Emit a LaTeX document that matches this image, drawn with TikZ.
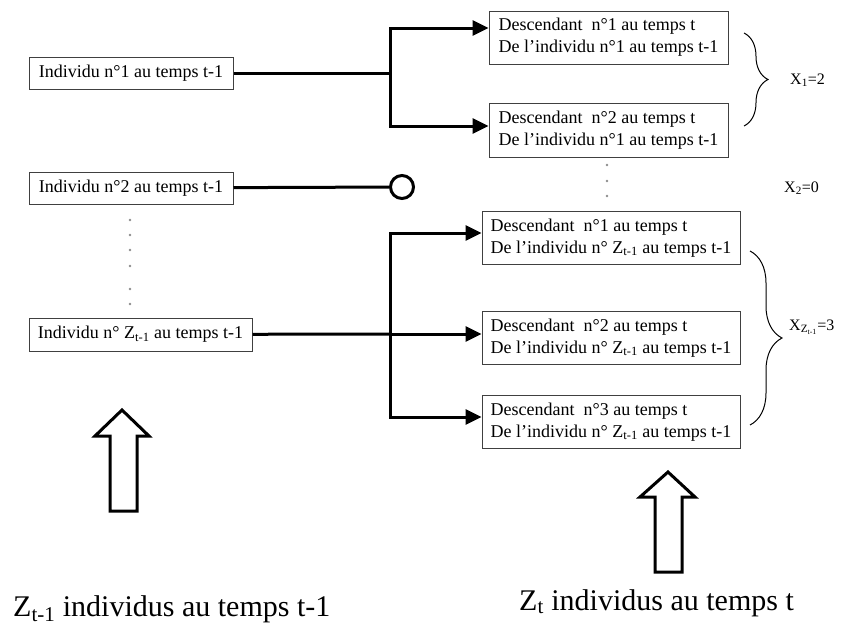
\documentclass[tikz,border=0pt]{standalone}
\usepackage{fontspec}
\setmainfont{Liberation Serif}
\usetikzlibrary{positioning}
\usetikzlibrary{calc}
\usetikzlibrary{arrows.meta}
\usetikzlibrary{decorations.pathreplacing}
\tikzset{>=latex}
\tikzstyle{indnode}=[black,draw=black!75,line width=1pt,shape=rectangle,fill=white,inner sep=0pt,font=\fontsize{18}{22}\selectfont]
\tikzstyle{descnode}=[indnode,align=left]
\tikzstyle{branch}=[line width=3pt,color=black]
\tikzstyle{barrow}=[branch,-{Triangle[length=16pt,width=15pt]}]
\tikzstyle{xbrace}=[decorate,decoration={brace,amplitude=24pt},line width=1pt]
\tikzstyle{xlabel}=[font=\fontsize{16}{19}\selectfont,inner sep=0pt]
\tikzstyle{hollow}=[line width=3pt,line join=miter,fill=white]
\tikzstyle{dotc}=[fill=black!45]

\begin{document}
\begin{tikzpicture}[x=1pt,y=-1pt]
	\useasboundingbox (0,0) rectangle (844,627);
	
	% Individus au temps t-1
	\node[indnode,minimum width=204pt,minimum height=32pt] (ind1) at (131,73) {Individu n°1 au temps t-1};
	\node[indnode,minimum width=204pt,minimum height=32pt] (ind2) at (131,188) {Individu n°2 au temps t-1};
	\node[indnode,minimum width=223pt,minimum height=33pt] (indz) at (140.5,334.5) {Individu n° Z\textsubscript{t-1} au temps t-1};
	\foreach \y in {220,235,250,266,289,304}
		\fill[dotc] (130,\y) circle (1.3pt);
	
	% Descendants au temps t
	\node[descnode,minimum width=239pt,minimum height=53pt] (desc11) at (608.5,37.5) {Descendant~~n°1 au temps t\\De l’individu n°1 au temps t-1};
	\node[descnode,minimum width=239pt,minimum height=54pt] (desc12) at (608.5,130) {Descendant~~n°2 au temps t\\De l’individu n°1 au temps t-1};
	\node[descnode,minimum width=258pt,minimum height=53pt] (descz1) at (611,238) {Descendant~~n°1 au temps t\\De l’individu n° Z\textsubscript{t-1} au temps t-1};
	\node[descnode,minimum width=258pt,minimum height=53pt] (descz2) at (611,338) {Descendant~~n°2 au temps t\\De l’individu n° Z\textsubscript{t-1} au temps t-1};
	\node[descnode,minimum width=258pt,minimum height=53pt] (descz3) at (611,422) {Descendant~~n°3 au temps t\\De l’individu n° Z\textsubscript{t-1} au temps t-1};
	\foreach \y in {165,181,196}
		\fill[dotc] (607,\y) circle (1.3pt);
	
	% Branchements
	\coordinate (fork1) at (390,73);
	\coordinate (forkz) at (390,334);
	\draw[branch] (ind1) -- (fork1);
	\draw[barrow] (fork1) |- ([yshift=9.5pt]desc11.west);
	\draw[barrow] (fork1) |- ([yshift=4pt]desc12.west);
	\node[circle,draw,line width=3pt,minimum size=23pt,inner sep=0pt] (dead) at (402,187) {};
	\draw[branch] (ind2) -- (dead);
	\draw[branch] (indz) -- (forkz);
	\draw[barrow] (forkz) |- ([yshift=5pt]descz1.west);
	\draw[barrow] (forkz) |- ([yshift=4pt]descz2.west);
	\draw[barrow] (forkz) |- ([yshift=5pt]descz3.west);
	
	% Nombre de descendants
	\draw[xbrace] (744,33) -- (744,126);
	\node[xlabel,anchor=west] (x1) at (790,80) {X\textsubscript{1}=2};
	\node[xlabel,anchor=west] (x2) at (784,188) {X\textsubscript{2}=0};
	\draw[xbrace,decoration={amplitude=32pt}] (750,251) -- (750,425);
	\node[xlabel,anchor=west] (xz) at (789,327) {X\textsubscript{Z\textsubscript{t-1}}=3};
	
	% Generations
	\draw[hollow] (110,511) -- (110,436) -- (95,436) -- (122,410) -- (149,436) -- (137,436) -- (137,511) -- cycle;
	\draw[hollow] (655,572) -- (655,497) -- (640,497) -- (668,472) -- (695,497) -- (682,497) -- (682,572) -- cycle;
	\node[anchor=base west,inner sep=0pt,font=\fontsize{30}{36}\selectfont] (genp) at (13,616) {Z\textsubscript{t-1} individus au temps t-1};
	\node[anchor=base west,inner sep=0pt,font=\fontsize{30}{36}\selectfont] (genc) at (519,610) {Z\textsubscript{t} individus au temps t};
	
\end{tikzpicture}
\end{document}
